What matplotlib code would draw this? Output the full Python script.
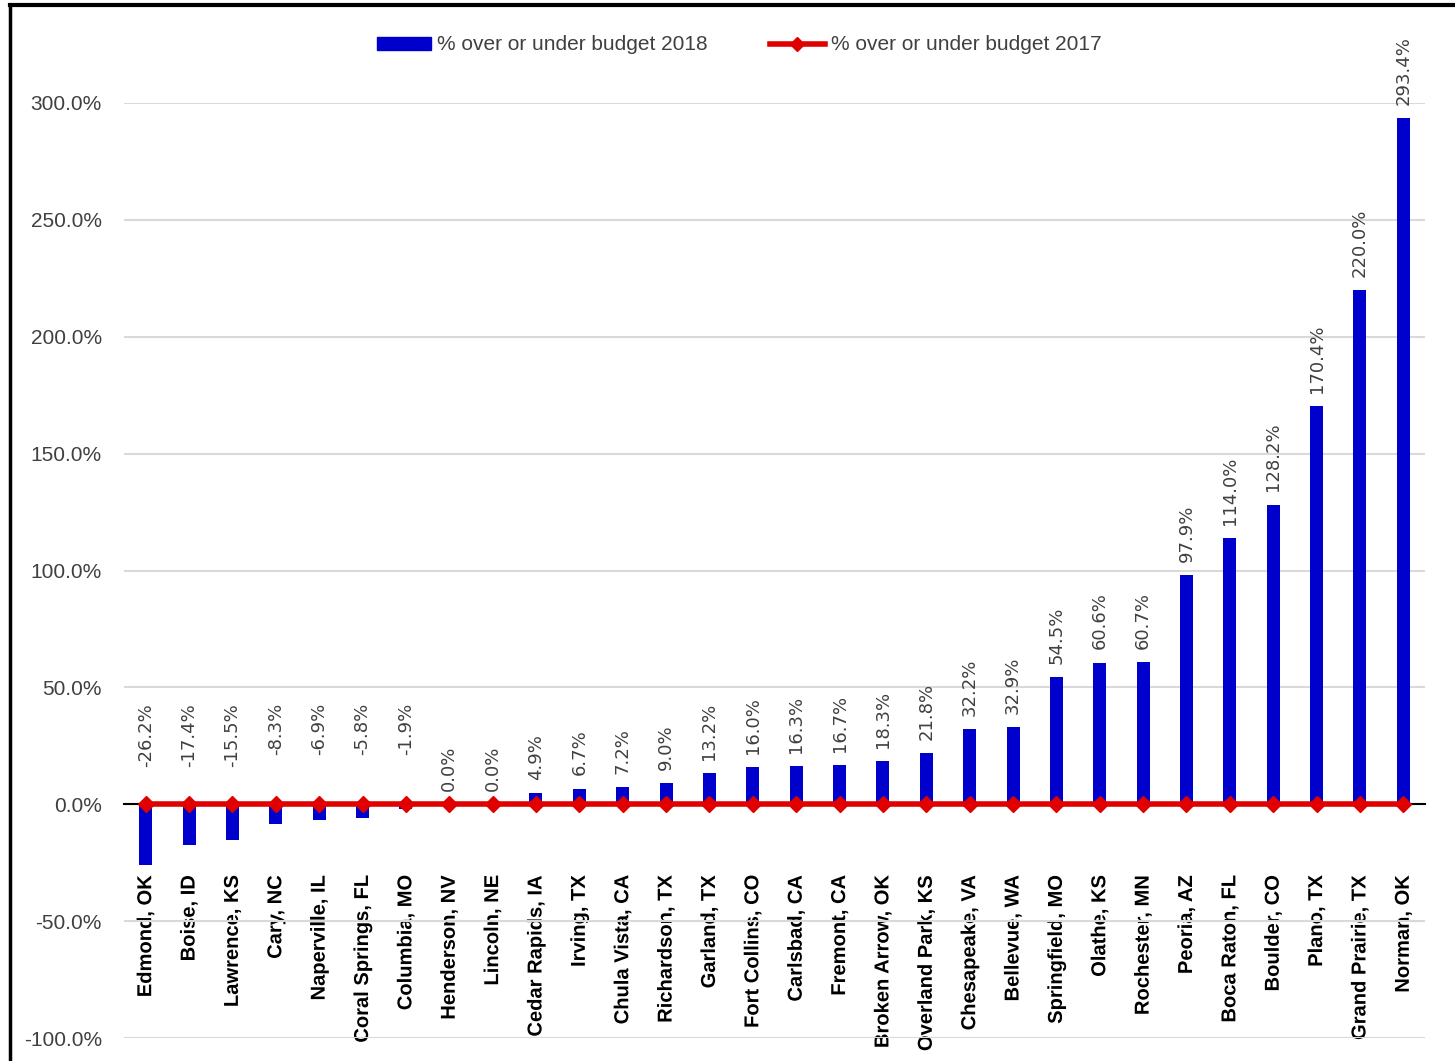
import matplotlib
matplotlib.use("Agg")
import matplotlib.pyplot as plt
import matplotlib.patheffects as pe
from matplotlib.patches import Rectangle
from matplotlib.lines import Line2D
from matplotlib.transforms import offset_copy
import numpy as np

plt.rcParams['font.family'] = 'Liberation Sans'

cities = ["Edmond, OK", "Boise, ID", "Lawrence, KS", "Cary, NC", "Naperville, IL",
          "Coral Springs, FL", "Columbia, MO", "Henderson, NV", "Lincoln, NE",
          "Cedar Rapids, IA", "Irving, TX", "Chula Vista, CA", "Richardson, TX",
          "Garland, TX", "Fort Collins, CO", "Carlsbad, CA", "Fremont, CA",
          "Broken Arrow, OK", "Overland Park, KS", "Chesapeake, VA", "Bellevue, WA",
          "Springfield, MO", "Olathe, KS", "Rochester, MN", "Peoria, AZ",
          "Boca Raton, FL", "Boulder, CO", "Plano, TX", "Grand Prairie, TX", "Norman, OK"]
budget_2018 = [-26.2, -17.4, -15.5, -8.3, -6.9, -5.8, -1.9, 0.0, 0.0, 4.9, 6.7, 7.2,
               9.0, 13.2, 16.0, 16.3, 16.7, 18.3, 21.8, 32.2, 32.9, 54.5, 60.6, 60.7,
               97.9, 114.0, 128.2, 170.4, 220.0, 293.4]
budget_2017 = [0.0] * 30
yticks = [-100, -50, 0, 50, 100, 150, 200, 250, 300]

BLUE = "#0000CC"
RED = "#E00000"

fig = plt.figure(figsize=(14.55, 10.61), dpi=100)
ax = fig.add_axes([124/1455, 1 - 1038/1061, (1425-124)/1455, (1038-103)/1061])

x = np.arange(len(cities))
ax.bar(x, budget_2018, width=0.3, color=BLUE, zorder=2, label="% over or under budget 2018")
ax.plot(x, budget_2017, color=RED, lw=4, marker="D", markersize=8.5, zorder=3,
        label="% over or under budget 2017")

ax.set_xlim(-0.5, len(cities) - 0.5)
ax.set_ylim(-100, 300)
ax.set_yticks(yticks)
ax.set_yticklabels([f"{v:.1f}%" for v in yticks], fontsize=15, color="#404040")
ax.yaxis.grid(True, color="#d9d9d9", lw=1.5, zorder=0)
ax.set_axisbelow(True)
for s in ["top", "right", "left"]:
    ax.spines[s].set_visible(False)
ax.spines["bottom"].set_position(("data", 0))
ax.spines["bottom"].set_color("black")
ax.spines["bottom"].set_linewidth(1.5)
ax.spines["bottom"].set_zorder(1)
ax.tick_params(axis="y", length=0, pad=16)
ax.tick_params(axis="x", length=0, pad=51)
ax.set_xticks(x)
ax.set_xticklabels(cities, rotation=90, fontsize=14.5, fontweight="bold", color="black",
                   va="top", ha="center", family="Liberation Sans",
                   path_effects=[pe.Normal()])

for i, v in enumerate(budget_2018):
    if v < 0:
        tr = offset_copy(ax.transData, fig=fig, x=0, y=73, units="points")
        ax.text(i, 0, f"{v:.1f}%", rotation=90, ha="center", va="top", transform=tr,
                fontsize=13, color="#404040", family="DejaVu Sans")
    else:
        tr = offset_copy(ax.transData, fig=fig, x=0, y=9.5, units="points")
        ax.text(i, v, f"{v:.1f}%", rotation=90, ha="center", va="bottom", transform=tr,
                fontsize=13, color="#404040", family="DejaVu Sans")

handles = [Rectangle((0, 0), 1, 1, color=BLUE),
           Line2D([], [], color=RED, lw=4, marker="D", markersize=7)]
fig.legend(handles, ["% over or under budget 2018", "% over or under budget 2017"],
           loc="center", bbox_to_anchor=(0.508, 1 - 45/1061), ncol=2, frameon=False,
           fontsize=15, handlelength=2.6, handleheight=0.6, columnspacing=3.0,
           handletextpad=0.3, labelcolor="#404040")

fig.add_artist(Line2D([10/1455, 10/1455], [0, 1 - 5/1061], transform=fig.transFigure,
                      color="black", lw=2.5))
fig.add_artist(Line2D([10/1455, 1], [1 - 5/1061, 1 - 5/1061], transform=fig.transFigure,
                      color="black", lw=3))

fig.savefig("out.png", dpi=100, facecolor="white")
